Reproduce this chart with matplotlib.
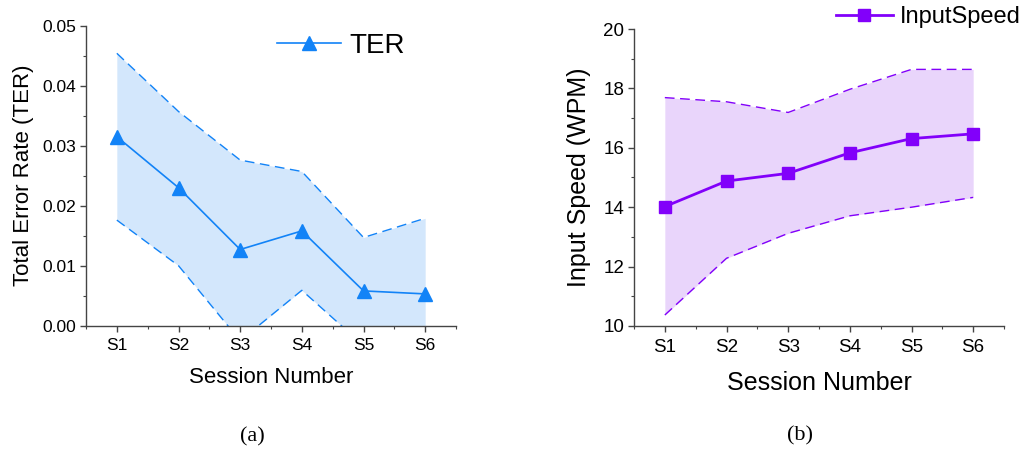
import matplotlib
matplotlib.use("Agg")
import matplotlib.pyplot as plt
from matplotlib.ticker import MultipleLocator
import numpy as np

plt.rcParams['font.family'] = ['Liberation Sans', 'DejaVu Sans']

sessions = ["S1", "S2", "S3", "S4", "S5", "S6"]

ter_mean = [0.0315, 0.0230, 0.0127, 0.0158, 0.0058, 0.0053]
ter_upper = [0.0454, 0.0357, 0.0276, 0.0257, 0.0147, 0.0179]
ter_lower = [0.0176, 0.0100, -0.0025, 0.0059, -0.0033, -0.0075]

speed_mean = [14.02, 14.88, 15.14, 15.83, 16.31, 16.47]
speed_upper = [17.69, 17.55, 17.19, 17.97, 18.64, 18.64]
speed_lower = [10.37, 12.28, 13.12, 13.71, 14.00, 14.33]

blue = "#1283F7"
blue_fill = "#D3E7FC"
purple = "#8200FA"
purple_fill = "#E9D5FB"
spine_col = "#444444"

fig = plt.figure(figsize=(10.21, 4.54), dpi=100)
ax1 = fig.add_axes([86/1021, 1-325.7/454, (456-86)/1021, 300/454])
ax2 = fig.add_axes([634/1021, 1-326/454, (1004-634)/1021, 297/454])

x = np.arange(1, len(sessions)+1)

def style(ax, tick_fs):
    for s in ("top", "right"):
        ax.spines[s].set_visible(False)
    for s in ("left", "bottom"):
        ax.spines[s].set_color(spine_col)
        ax.spines[s].set_linewidth(1.0)
    ax.set_xlim(0.5, 6.5)
    ax.set_xticks(x)
    ax.set_xticklabels(sessions)
    ax.xaxis.set_minor_locator(MultipleLocator(0.5))
    ax.tick_params(which="major", direction="out", length=4, width=1, color=spine_col,
                   labelsize=tick_fs, pad=3)
    ax.tick_params(axis="x", which="major", pad=5)
    ax.tick_params(which="minor", direction="out", length=2.5, width=0.8, color=spine_col)

# Left panel
ax1.fill_between(x, ter_lower, ter_upper, color=blue_fill, lw=0)
ax1.plot(x, ter_upper, color=blue, lw=1.0, dashes=(7, 4))
ax1.plot(x, ter_lower, color=blue, lw=1.0, dashes=(7, 4))
ax1.plot(x, ter_mean, color=blue, lw=1.2, marker="^", markersize=10, label="TER")
ax1.set_ylim(0, 0.05)
ax1.yaxis.set_major_locator(MultipleLocator(0.01))
ax1.yaxis.set_minor_locator(MultipleLocator(0.005))
ax1.yaxis.set_major_formatter(matplotlib.ticker.FormatStrFormatter("%.2f"))
style(ax1, 12.5)
ax1.set_xlabel("Session Number", fontsize=16, labelpad=10)
ax1.set_ylabel("Total Error Rate (TER)", fontsize=16, labelpad=6)
ax1.legend(loc="center left", bbox_to_anchor=(277/1021, 1-46/454), bbox_transform=fig.transFigure,
           frameon=False, fontsize=20, handlelength=2.3, handletextpad=0.3, borderpad=0,
           borderaxespad=0)

# Right panel
ax2.fill_between(x, speed_lower, speed_upper, color=purple_fill, lw=0)
ax2.plot(x, speed_upper, color=purple, lw=1.0, dashes=(7, 4))
ax2.plot(x, speed_lower, color=purple, lw=1.0, dashes=(7, 4))
ax2.plot(x, speed_mean, color=purple, lw=2.0, marker="s", markersize=9, label="InputSpeed")
ax2.set_ylim(10, 20)
ax2.yaxis.set_major_locator(MultipleLocator(2))
ax2.yaxis.set_minor_locator(MultipleLocator(1))
style(ax2, 13.5)
ax2.set_xlabel("Session Number", fontsize=18, labelpad=11)
ax2.set_ylabel("Input Speed (WPM)", fontsize=18, labelpad=9)
ax2.legend(loc="center left", bbox_to_anchor=(836/1021, 1-17/454), bbox_transform=fig.transFigure,
           frameon=False, fontsize=17, handlelength=2.4, handletextpad=0.3, borderpad=0,
           borderaxespad=0)

fig.text(252/1021, 1-437/454, "(a)", ha="center", va="center", fontsize=16,
         family=["Liberation Serif", "DejaVu Serif"])
fig.text(800/1021, 1-436/454, "(b)", ha="center", va="center", fontsize=16,
         family=["Liberation Serif", "DejaVu Serif"])

fig.savefig("out.png", dpi=100)
